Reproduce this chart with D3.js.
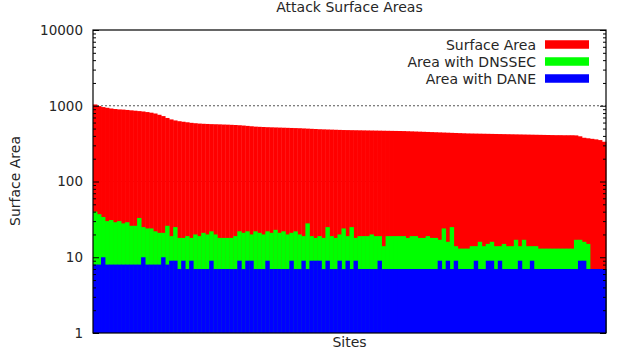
<!DOCTYPE html>
<html>
<head>
<meta charset="utf-8">
<script src="https://cdn.jsdelivr.net/npm/d3@7"></script>
<style>
  html, body { margin: 0; padding: 0; background: #fff; }
  svg { display: block; font-family: "DejaVu Sans", sans-serif; }
</style>
</head>
<body>
<svg id="chart" width="618" height="350"></svg>
<script>
// ---- data ----
const surfaceArea = [
  1040, 990, 960, 940, 920, 905, 895, 890, 880, 870,
  860, 850, 840, 825, 810, 790, 760, 730, 690, 660,
  640, 625, 615, 605, 595, 588, 582, 578, 575, 572,
  570, 568, 565, 563, 560, 557, 553, 548, 542, 536,
  530, 527, 524, 521, 519, 517, 515, 513, 511, 509,
  507, 505, 502, 499, 496, 493, 490, 488, 486, 484,
  482, 480, 478, 477, 476, 475, 474, 473, 472, 471,
  470, 469, 468, 467, 466, 465, 464, 463, 461, 459,
  457, 455, 453, 451, 449, 447, 445, 443, 441, 439,
  437, 435, 433, 431, 430, 429, 428, 427, 426, 425,
  424, 423, 422, 421, 420, 419, 418, 417, 416, 415,
  414, 413, 412, 411, 410, 409, 409, 408, 408, 408,
  406, 395, 378, 372, 366, 360, 352, 335
];
const dnssecArea = [
  40, 37, 34, 30, 31, 29, 30, 28, 29, 26,
  26, 33, 25, 24, 24, 22, 21, 21, 26, 19,
  25, 18, 18, 19, 18, 20, 19, 21, 20, 22,
  20, 18, 18, 18, 18, 19, 22, 21, 22, 20,
  22, 21, 20, 22, 21, 23, 21, 22, 20, 21,
  22, 20, 19, 28, 19, 18, 19, 18, 25, 19,
  18, 20, 24, 19, 25, 18, 19, 19, 19, 20,
  19, 19, 14, 19, 19, 19, 19, 19, 18, 19,
  19, 18, 18, 19, 18, 18, 17, 24, 16, 25,
  14, 13, 13, 13, 14, 14, 16, 14, 15, 16,
  14, 14, 15, 14, 14, 17, 14, 17, 14, 14,
  14, 13, 13, 13, 13, 13, 13, 13, 13, 13,
  17, 17, 16, 15, 7, 7, 7, 7
];
const daneArea = [
  8, 8, 10, 8, 8, 8, 8, 8, 8, 8,
  8, 8, 10, 8, 8, 8, 8, 10, 8, 9,
  9, 7, 9, 7, 9, 7, 7, 7, 7, 9,
  7, 7, 7, 7, 7, 7, 9, 7, 9, 9,
  7, 7, 7, 9, 7, 7, 7, 7, 7, 9,
  7, 7, 9, 7, 9, 9, 9, 7, 9, 7,
  7, 9, 7, 9, 7, 9, 7, 7, 7, 7,
  7, 9, 7, 7, 7, 7, 7, 7, 7, 7,
  7, 7, 7, 7, 7, 7, 9, 7, 9, 7,
  9, 7, 7, 7, 7, 9, 7, 7, 9, 9,
  7, 9, 7, 7, 7, 7, 9, 7, 7, 9,
  7, 7, 7, 7, 7, 7, 7, 7, 7, 7,
  7, 9, 9, 7, 7, 7, 7, 7
];
const sites = surfaceArea.map((_, i) => i + 1);
const yTickValues = [1, 10, 100, 1000, 10000];
const yTickLabels = ["1", "10", "100", "1000", "10000"];
const seriesNames = ["Surface Area", "Area with DNSSEC", "Area with DANE"];
const seriesColors = ["#ff0000", "#00ff00", "#0000ff"];
const seriesData = [surfaceArea, dnssecArea, daneArea];

// ---- layout ----
const mLeft = 93, mRight = 606, mTop = 30, mBottom = 333;
const FS = 14;
const TXT = "#262626";
const svg = d3.select("#chart");

const x = d3.scaleBand().domain(sites).range([mLeft, mRight]).padding(0);
const y = d3.scaleLog().domain([1, 10000]).range([mBottom, mTop]);

// grid (major y) behind bars
svg.append("g").selectAll("line").data(yTickValues.slice(1, -1)).join("line")
  .attr("x1", mLeft).attr("x2", mRight)
  .attr("y1", d => y(d)).attr("y2", d => y(d))
  .attr("stroke", "#555").attr("stroke-width", 1)
  .attr("stroke-dasharray", "2,2");

// bars, drawn red then green then blue
seriesData.forEach((arr, s) => {
  svg.append("g").selectAll("rect").data(arr).join("rect")
    .attr("x", (d, i) => x(sites[i]))
    .attr("width", x.bandwidth() + 0.4)
    .attr("y", d => y(d))
    .attr("height", d => y(1) - y(d))
    .attr("fill", seriesColors[s]);
});

// minor ticks values
const minorTicks = [];
for (let dec = 1; dec < 10000; dec *= 10) {
  for (let k = 2; k <= 9; k++) minorTicks.push(dec * k);
}

// axes
const fmt = d => yTickLabels[yTickValues.indexOf(d)];
const gl = svg.append("g").attr("transform", `translate(${mLeft},0)`)
  .call(d3.axisLeft(y).tickValues(yTickValues).tickFormat(fmt).tickSize(-6).tickPadding(10));
const glm = svg.append("g").attr("transform", `translate(${mLeft},0)`)
  .call(d3.axisLeft(y).tickValues(minorTicks).tickFormat("").tickSize(-3));
const gr = svg.append("g").attr("transform", `translate(${mRight},0)`)
  .call(d3.axisRight(y).tickValues(yTickValues).tickFormat("").tickSize(-6));
const grm = svg.append("g").attr("transform", `translate(${mRight},0)`)
  .call(d3.axisRight(y).tickValues(minorTicks).tickFormat("").tickSize(-3));
[gl, glm, gr, grm].forEach(g => {
  g.select(".domain").remove();
  g.selectAll(".tick line").attr("stroke", "#000").attr("stroke-width", 1);
});
gl.selectAll(".tick text").attr("font-size", 13.5).attr("fill", TXT)
  .attr("font-family", "DejaVu Sans, sans-serif");

// border
svg.append("rect").attr("x", mLeft).attr("y", mTop)
  .attr("width", mRight - mLeft).attr("height", mBottom - mTop)
  .attr("fill", "none").attr("stroke", "#000").attr("stroke-width", 1.2);

// title
svg.append("text").attr("x", (mLeft + mRight) / 2).attr("y", 12)
  .attr("text-anchor", "middle").attr("font-size", FS).attr("fill", TXT)
  .text("Attack Surface Areas");

// axis labels
svg.append("text").attr("transform", "translate(20,181) rotate(-90)")
  .attr("text-anchor", "middle").attr("font-size", FS).attr("fill", TXT)
  .text("Surface Area");
svg.append("text").attr("x", (mLeft + mRight) / 2).attr("y", 347)
  .attr("text-anchor", "middle").attr("font-size", FS).attr("fill", TXT)
  .text("Sites");

// legend
const lg = svg.append("g");
seriesNames.forEach((name, i) => {
  const cy = 44.5 + i * 17;
  lg.append("text").attr("x", 536).attr("y", cy + 5)
    .attr("text-anchor", "end").attr("font-size", FS).attr("fill", TXT)
    .text(name);
  lg.append("rect").attr("x", 545).attr("y", cy - 4.25)
    .attr("width", 44).attr("height", 8.5)
    .attr("fill", seriesColors[i]);
});
</script>
</body>
</html>
